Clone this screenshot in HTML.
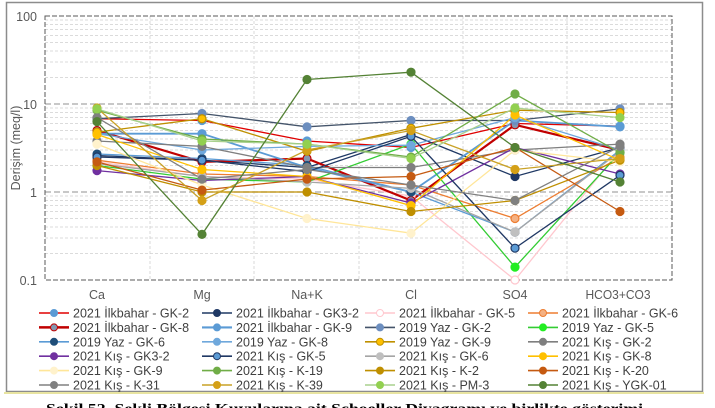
<!DOCTYPE html>
<html><head><meta charset="utf-8"><style>
html,body{margin:0;padding:0;background:#fff;width:715px;height:408px;overflow:hidden}
svg{display:block;font-family:"Liberation Sans",sans-serif}
</style></head><body>
<svg id="s" width="715" height="408" viewBox="0 0 715 408" xmlns="http://www.w3.org/2000/svg">
<rect x="6.5" y="2.5" width="696" height="389" fill="#fff" stroke="#8c8c8c" stroke-width="1.5"/>
<line x1="4" y1="393" x2="704" y2="393" stroke="#e8e4a0" stroke-width="2"/>
<g id="grid"></g>
<rect x="45" y="16" width="627" height="264" fill="none" stroke="#595959" stroke-width="1" stroke-dasharray="5,2"/>
<g font-size="12.5" fill="#595959" text-anchor="end">
<text x="37" y="21">100</text><text x="37" y="109">10</text><text x="37" y="197">1</text><text x="37" y="285">0.1</text>
</g>
<text transform="translate(20,148) rotate(-90)" font-size="12.5" fill="#595959" text-anchor="middle">Derişim (meq/l)</text>
<g font-size="12.5" fill="#595959" text-anchor="middle">
<text x="97" y="299">Ca</text><text x="202" y="299">Mg</text><text x="307" y="299">Na+K</text><text x="411" y="299">Cl</text><text x="515" y="299">SO4</text><text x="618" y="299" textLength="65" lengthAdjust="spacingAndGlyphs">HCO3+CO3</text>
</g>
<g id="series"></g>
<g id="legend" font-size="12.5" fill="#404040"></g>
<text x="46" y="413" font-family="Liberation Serif,serif" font-weight="bold" font-size="14" fill="#000" textLength="597" lengthAdjust="spacingAndGlyphs">Şekil 52. Şekli Bölgesi Kuyularına ait Schoeller Diyagramı ve birlikte gösterimi</text>
</svg>
<script>
const NS="http://www.w3.org/2000/svg";
function el(t,a,p){const e=document.createElementNS(NS,t);for(const k in a)e.setAttribute(k,a[k]);p.appendChild(e);return e;}
const Y=v=>192-88*Math.log10(v);
const X=[97,202,307,411,515,620];
const g=document.getElementById('grid');
for(let d=-1;d<2;d++)for(let m=2;m<=9;m++){const y=Y(m*Math.pow(10,d));el('line',{x1:45,x2:672,y1:y,y2:y,stroke:'#d0d0d0','stroke-dasharray':'3,2','stroke-width':0.8},g);}
[104,192].forEach(y=>el('line',{x1:45,x2:672,y1:y,y2:y,stroke:'#a6a6a6','stroke-dasharray':'6,3','stroke-width':1.2},g));
[150,254,359,463,567].forEach(x=>el('line',{x1:x,x2:x,y1:16,y2:280,stroke:'#d0d0d0','stroke-dasharray':'3,2','stroke-width':0.8},g));
const S=[
["2021 İlkbahar - GK-2","#e00000","#5b9bd5",0,[6.8,6.5,3.8,3.2,6.0,5.6],1.3],
["2021 İlkbahar - GK3-2","#1f3864","#1f3864",0,[2.6,2.3,1.9,4.5,1.5,3.2],1.3],
["2021 İlkbahar - GK-5","#ffc7ce","#fff",1,[2.2,1.5,1.4,0.9,0.1,3.0],1.3],
["2021 İlkbahar - GK-6","#ed7d31","#f4b183",1,[2.3,1.6,1.5,1.2,0.5,2.5],1.3],
["2021 İlkbahar - GK-8","#c00000","#8497b0",1,[5.0,2.2,2.4,0.8,5.8,3.0],2.2],
["2021 İlkbahar - GK-9","#5b9bd5","#5b9bd5",0,[4.6,4.6,1.9,1.0,6.5,5.5],1.8],
["2019 Yaz - GK-2","#44546a","#6c8ebf",0,[6.8,7.8,5.5,6.5,6.5,8.8],1.3],
["2019 Yaz - GK-5","#33cc33","#22ee22",0,[2.0,1.4,1.3,3.5,0.14,2.8],1.3],
["2019 Yaz - GK-6","#5b9bd5","#1f4e79",0,[2.7,2.4,2.0,1.0,0.35,3.0],1.3],
["2019 Yaz - GK-8","#6fa8dc","#6fa8dc",0,[4.6,3.0,3.3,3.4,7.0,3.0],1.3],
["2019 Yaz - GK-9","#bf9000","#ffc000",1,[4.8,6.8,2.9,5.3,8.5,8.0],1.3],
["2021 Kış - GK-2","#7f7f7f","#7f7f7f",0,[3.8,3.3,1.9,1.9,3.0,3.5],1.3],
["2021 Kış - GK3-2","#7030a0","#7030a0",0,[1.75,1.35,1.5,0.75,3.2,1.6],1.3],
["2021 Kış - GK-5","#203864","#5b9bd5",1,[2.5,2.3,1.7,4.3,0.23,1.55],1.3],
["2021 Kış - GK-6","#a5a5a5","#bfbfbf",0,[2.1,1.5,1.3,1.1,0.35,2.9],1.3],
["2021 Kış - GK-8","#ffc000","#ffc000",0,[4.5,1.8,1.5,0.7,7.5,2.3],1.3],
["2021 Kış - GK-9","#ffe699","#fff2cc",0,[3.5,1.2,0.5,0.34,3.0,2.2],1.3],
["2021 Kış - K-19","#70ad47","#70ad47",0,[8.5,4.0,3.5,2.5,13,2.8],1.3],
["2021 Kış - K-2","#bf8f00","#bf8f00",0,[2.0,1.0,1.0,0.6,0.8,2.3],1.3],
["2021 Kış - K-20","#c55a11","#c55a11",0,[2.2,1.05,1.4,1.5,3.2,0.6],1.3],
["2021 Kış - K-31","#808080","#808080",0,[7.0,1.4,1.8,1.2,0.8,3.3],1.3],
["2021 Kış - K-39","#c9a227","#d4a017",0,[9.0,0.8,3.0,5.0,1.8,2.4],1.3],
["2021 Kış - PM-3","#a9d18e","#92d050",0,[8.8,3.8,3.5,2.4,9.0,7.0],1.3],
["2021 Kış - YGK-01","#548235","#548235",0,[6.3,0.33,19,23,3.2,1.3],1.3]
];
const sg=document.getElementById('series');
S.forEach(s=>{el('polyline',{points:s[4].map((v,i)=>X[i]+','+Y(v).toFixed(1)).join(' '),fill:'none',stroke:s[1],'stroke-width':s[5]},sg);});
S.forEach(s=>{s[4].forEach((v,i)=>el('circle',{cx:X[i],cy:Y(v),r:4,fill:s[2],stroke:s[3]?s[1]:s[2],'stroke-width':1.2},sg));});
const lg=document.getElementById('legend');
const cx=[39,202,365,528];
S.forEach((s,k)=>{const c=k%4,r=Math.floor(k/4);const x=cx[c],y=313+r*14.4;
el('line',{x1:x,x2:x+30,y1:y,y2:y,stroke:s[1],'stroke-width':s[5]+0.3},lg);
el('circle',{cx:x+15,cy:y,r:3.5,fill:s[2],stroke:s[3]?s[1]:s[2]},lg);
const t=el('text',{x:x+34,y:y+4.5},lg);t.textContent=s[0];});
</script>
</body></html>
